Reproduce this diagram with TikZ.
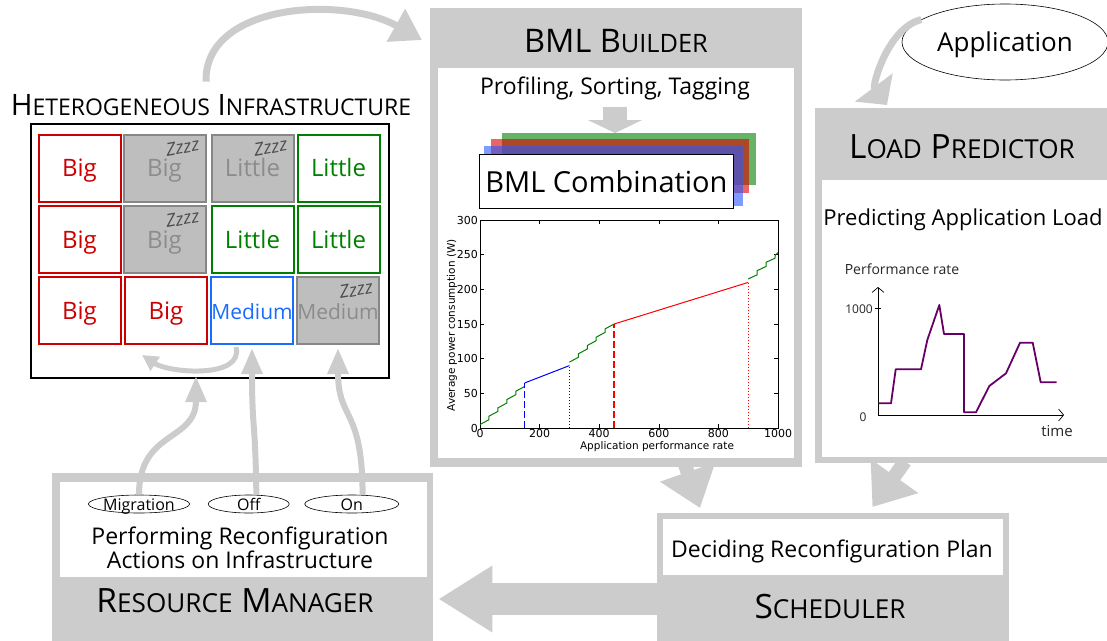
\documentclass[tikz,border=0pt]{standalone}
\usepackage{fontspec}
\setmainfont{Open Sans}
\newfontfamily\plotfont{DejaVu Sans}
\usepackage{graphicx}
\usetikzlibrary{calc}
\usetikzlibrary{positioning}
\usetikzlibrary{arrows.meta}
\usetikzlibrary{shapes.geometric}

\definecolor{panelgray}{RGB}{204,204,204}
\definecolor{bigred}{RGB}{204,0,0}
\definecolor{littlegreen}{RGB}{0,128,0}
\definecolor{mediumblue}{RGB}{26,108,255}
\definecolor{sleepfill}{RGB}{190,190,190}
\definecolor{sleepdraw}{RGB}{135,135,135}
\definecolor{sleeptext}{RGB}{140,140,140}
\definecolor{layergreen}{RGB}{0,128,0}
\definecolor{layerred}{RGB}{220,0,0}
\definecolor{layerblue}{RGB}{40,90,255}
\definecolor{loadpurple}{RGB}{102,0,102}

\newcommand{\fsc}[2]{#1\scalebox{0.78}{#2}}

\tikzset{
  panel/.style={rectangle, fill=panelgray, inner sep=0pt, anchor=north west},
  inset/.style={rectangle, fill=white, inner sep=0pt, anchor=north west},
  heading/.style={font=\fontsize{33.5}{40}\selectfont, anchor=base, inner sep=0pt},
  subheading/.style={font=\fontsize{23}{23}\selectfont, anchor=base, inner sep=0pt, align=center},
  cell/.style={rectangle, minimum width=82pt, minimum height=67pt, line width=2pt, inner sep=0pt, text height=17pt, text depth=0pt, font=\fontsize{24}{28}\selectfont},
  bigcell/.style={cell, draw=bigred, text=bigred},
  littlecell/.style={cell, draw=littlegreen, text=littlegreen},
  mediumcell/.style={cell, draw=mediumblue, text=mediumblue, font=\fontsize{21}{25}\selectfont},
  sleepcell/.style={cell, draw=sleepdraw, fill=sleepfill, text=sleeptext},
  sleepmedium/.style={sleepcell, font=\fontsize{21}{25}\selectfont},
  zzz/.style={font=\fontsize{18}{20}\selectfont\itshape, text=black!70, rotate=10, inner sep=0pt},
  action/.style={ellipse, draw=black, line width=0.6pt, minimum height=18pt, inner sep=0pt, text height=12pt, text depth=0pt, font=\fontsize{16}{19}\selectfont},
  layer/.style={rectangle, inner sep=0pt, anchor=north west, fill opacity=0.6},
  flow/.style={draw=panelgray, line width=7pt, -{Triangle[length=30pt,width=36pt]}},
  wideflow/.style={draw=panelgray, line width=14pt, -{Triangle[length=38pt,width=56pt]}},
  smallflow/.style={draw=panelgray, line width=6pt, -{Triangle[length=26pt,width=20pt]}},
  plotline/.style={line width=1pt},
  longdash/.style={dash pattern=on 7pt off 3pt, line width=1.4pt},
  lpaxis/.style={line width=0.7pt, -{Straight Barb[length=5pt,width=12pt]}},
}

\begin{document}
\begin{tikzpicture}[x=1pt, y=-1pt]
    \useasboundingbox (0,0) rectangle (1107,640);

    % the four grey panels with their white insets
    \node [panel, minimum width=372pt, minimum height=459pt] (bmlpanel) at (430,8) {};
    \node [inset, minimum width=356pt, minimum height=390pt] (bmlinset) at (438,68) {};
    \node [panel, minimum width=300pt, minimum height=355pt] (loadpanel) at (815,108) {};
    \node [inset, minimum width=295pt, minimum height=277pt] (loadinset) at (822,180) {};
    \node [panel, minimum width=352pt, minimum height=135pt] (schedpanel) at (657,513) {};
    \node [inset, minimum width=340pt, minimum height=56pt] (schedinset) at (663,519) {};
    \node [panel, minimum width=381pt, minimum height=175pt] (rmpanel) at (52,473) {};
    \node [inset, minimum width=367pt, minimum height=95pt] (rminset) at (60,482) {};

    \node [heading, font=\fontsize{32.5}{38}\selectfont] (bmltitle) at (616,52) {BML \fsc{B}{UILDER}};
    \node [heading] (loadtitle) at (962,158) {\fsc{L}{OAD} \fsc{P}{REDICTOR}};
    \node [heading] (schedtitle) at (830,618) {\fsc{S}{CHEDULER}};
    \node [heading] (rmtitle) at (235,612) {\fsc{R}{ESOURCE} \fsc{M}{ANAGER}};

    \node [subheading] (profiling) at (615,94) {Profiling, Sorting, Tagging};
    \node [subheading, font=\fontsize{22}{22}\selectfont] (predicting) at (963,225) {Predicting Application Load};
    \node [subheading] (deciding) at (832,557) {Deciding Reconfiguration Plan};
    \node [subheading, anchor=center] (performing) at (240,548) {Performing Reconfiguration\\Actions on Infrastructure};

    % BML combination
    \node [layer, fill=layergreen, minimum width=254pt, minimum height=52pt] (greenlayer) at (502,133) {};
    \node [layer, fill=layerred, minimum width=258pt, minimum height=54pt] (redlayer) at (491,139) {};
    \node [layer, fill=layerblue, minimum width=259pt, minimum height=60pt] (bluelayer) at (484,146) {};
    \node [rectangle, draw=black, line width=0.8pt, fill=white, minimum width=254pt, minimum height=54pt, anchor=north west, inner sep=0pt, font=\fontsize{29}{34}\selectfont] (combination) at (479,154) {BML Combination};
    \draw [draw=panelgray, line width=24pt, -{Triangle[length=13pt,width=54pt]}] ([yshift=-7pt]profiling.south) -- (profiling.south |- greenlayer.north);

    % power model plot
    \begin{scope}[shift={(480,428)}, x=0.298pt, y=0.6933pt, font=\plotfont\fontsize{11}{13}\selectfont]
        \draw [line width=0.6pt] (0,0) rectangle (1000,300);
        \foreach \v in {0,200,...,1000} {
            \draw [line width=0.5pt] (\v,0) -- ++(0,6) (\v,300) -- ++(0,-6);
            \node [below, inner sep=1pt] (xtick\v) at (\v,0) {\v};
        }
        \foreach \v in {0,50,...,300} {
            \draw [line width=0.5pt] (0,\v) -- ++(14,0) (1000,\v) -- ++(-14,0);
            \node [left, inner sep=2pt] (ytick\v) at (0,\v) {\v};
        }
        \node [font=\plotfont\fontsize{10.5}{12}\selectfont] (xlabel) at (594,-27) {Application performance rate};
        \node [rotate=90, font=\plotfont\fontsize{10.5}{12}\selectfont] (ylabel) at (-94,148) {Average power consumption (W)};

        \draw [plotline, littlegreen] (0,5) \foreach \i in {0,...,3} { -- ({30*\i+30},{12+12*\i}) -- ({30*\i+30},{17+12*\i}) } -- (150,60);
        \draw [plotline, littlegreen] (300,95) \foreach \i in {0,...,3} { -- ({330+30*\i},{102+12*\i}) -- ({330+30*\i},{107+12*\i}) } -- (450,150);
        \draw [plotline, littlegreen] (900,215) -- (930,221) -- (930,227) -- (960,233) -- (960,239) -- (990,245) -- (990,249) -- (1000,253);
        \draw [plotline, blue, longdash] (150,0) -- (150,65);
        \draw [plotline, blue] (150,65) -- (300,90);
        \draw [plotline, blue, dotted] (300,0) -- (300,90);
        \draw [plotline, red, longdash] (450,0) -- (450,150);
        \draw [plotline, red] (450,150) -- (900,210);
        \draw [plotline, red, dotted] (900,0) -- (900,210);
    \end{scope}

    % load prediction plot
    \coordinate (lporigin) at (878,415);
    \coordinate (lpytop) at (878,287);
    \coordinate (lpxend) at (1064,415);
    \draw [lpaxis] (lporigin) -- (lpytop);
    \draw [lpaxis] (lporigin) -- (lpxend);
    \draw [line width=0.7pt] (875,308) -- (881,308);
    \node [font=\fontsize{14}{16}\selectfont, text=black!85] (perflabel) at (902,269) {Performance rate};
    \node [font=\fontsize{12}{14}\selectfont, text=black!85, anchor=east, inner sep=1pt] (thousand) at (874,309) {1000};
    \node [font=\fontsize{12}{14}\selectfont, text=black!85] (zero) at (863,417) {0};
    \node [font=\fontsize{15}{17}\selectfont, text=black!85] (timelabel) at (1057,431) {time};
    \draw [loadpurple, line width=1.8pt, line join=round] (878.3,403.3) -- (891,403.3) -- (895.7,369.3) -- (921,369.3) -- (927.3,340) -- (939.3,305) -- (944,334) -- (964,334) -- (964,412.3) -- (976,412.3) -- (989.3,386) -- (1006,373.3) -- (1020,342.7) -- (1032.7,342.7) -- (1040.7,382.3) -- (1056.7,382.3);

    % application
    \node [ellipse, draw=black, line width=0.6pt, minimum width=206pt, minimum height=76pt, inner sep=0pt, text height=19pt, text depth=0pt, font=\fontsize{26}{31}\selectfont] (app) at (1005,42) {Application};

    % heterogeneous infrastructure
    \node [rectangle, draw=black, line width=2pt, minimum width=358pt, minimum height=254pt, anchor=north west] (infra) at (30,123) {};
    \node [heading, font=\fontsize{29.5}{34}\selectfont] (infratitle) at (211,115) {\fsc{H}{ETEROGENEOUS} \fsc{I}{NFRASTRUCTURE}};
    \foreach \cname/\cx/\cy/\ckind/\ctext in {
        c11/79.5/168/bigcell/Big, c12/164.5/168/sleepcell/Big, c13/252.5/168/sleepcell/Little, c14/338.5/168/littlecell/Little,
        c21/79.5/239.5/bigcell/Big, c22/164.5/239.5/sleepcell/Big, c23/252.5/239.5/littlecell/Little, c24/338.5/239.5/littlecell/Little,
        c31/79.5/310.5/bigcell/Big, c32/166/310.5/bigcell/Big, c33/252/310.5/mediumcell/Medium, c34/338/310.5/sleepmedium/Medium}
        \node [\ckind] (\cname) at (\cx,\cy) {\ctext};
    \foreach \cname in {c12,c13,c22,c34}
        \node [zzz] (z\cname) at ($(\cname)+(18,-21)$) {Zzzz};

    % reconfiguration actions
    \node [action, minimum width=100pt] (migration) at (139,504) {Migration};
    \node [action, minimum width=81pt, right=18pt of migration] (off) {Off};
    \node [action, minimum width=94pt, right=15pt of off] (on) {On};

    % flows between components
    \draw [flow] ($(infratitle.north)+(-5,-12)$) .. controls +(-2,-78) and +(-80,-45) .. ($(bmlpanel.north west)+(-8,32)$);
    \draw [flow, -{Triangle[length=22pt,width=46pt]}] (app.165) .. controls +(-33,8) and +(-15,-20) .. ($(loadpanel.north west)+(72,-3)$);
    \draw [wideflow] ($(bmlpanel.south)+(68,-5)$) -- ($(schedpanel.north west)+(43,-5)$);
    \draw [wideflow] ($(loadpanel.south west)+(90,-2)$) -- ($(schedpanel.north east)+(-137,-6)$);
    \draw [draw=panelgray, line width=32pt, -{Triangle[length=54pt,width=63pt]}] ($(schedpanel.north west)+(10,86)$) -- ($(rmpanel.north east)+(5,126)$);

    \draw [smallflow] (migration.north) .. controls +(0,-65) and +(0,66) .. ($(infra.south)+(-14,-3)$);
    \draw [smallflow] (off.50) .. controls +(-1,-77) and +(0,83) .. ([yshift=-3pt]c33.south);
    \draw [smallflow] (on.40) .. controls +(0,-88) and +(0,73) .. ([yshift=-3pt]c34.south);
    \draw [draw=panelgray, line width=5pt, -{Triangle[length=16pt,width=16pt]}] ($(c33.south west)+(26,2)$) .. controls +(8,32) and +(27,18) .. ($(c32.south west)+(18,10)$);
\end{tikzpicture}
\end{document}
